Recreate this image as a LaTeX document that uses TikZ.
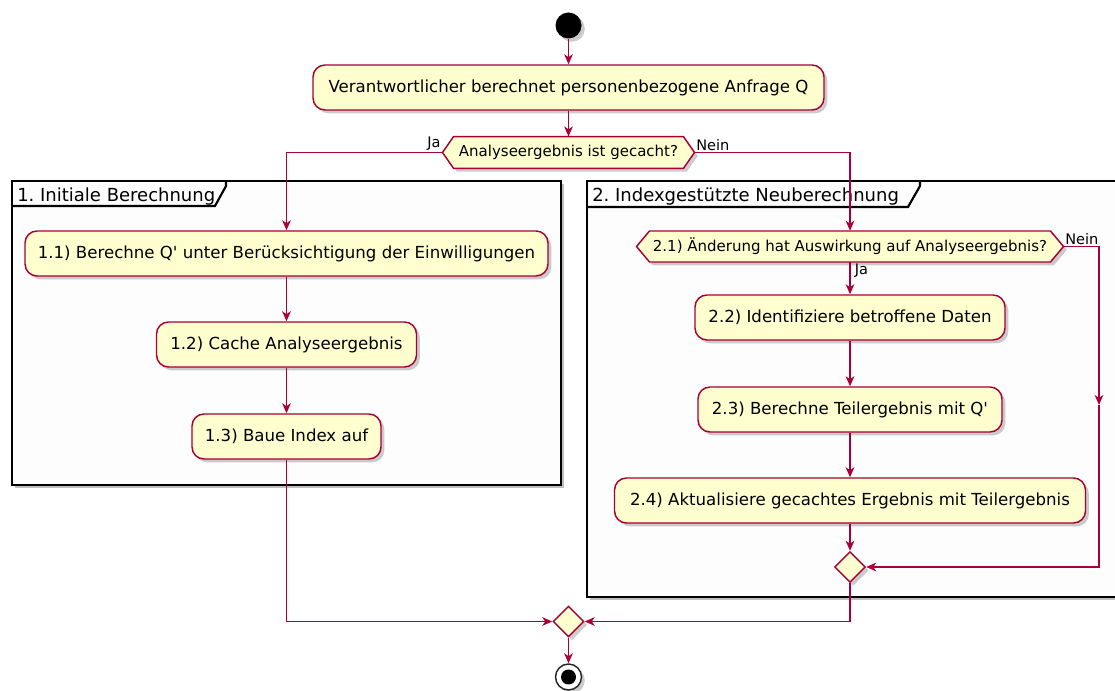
\documentclass[tikz,border=0pt]{standalone}
\usepackage{fontspec}
\setmainfont{DejaVu Sans}
\usetikzlibrary{arrows.meta,shadows,shapes.geometric}
\frenchspacing

\definecolor{umlred}{HTML}{A80036}
\definecolor{umlfill}{HTML}{FEFECE}
\definecolor{framefill}{HTML}{FDFDFD}

\tikzset{
  softshadow/.style={drop shadow={shadow xshift=2.5pt, shadow yshift=-2.5pt, fill=black, opacity=0.2}},
  act/.style={draw=umlred, fill=umlfill, line width=1.1pt, rounded corners=9pt,
    minimum height=33.75pt, inner xsep=0pt, inner ysep=0pt,
    font=\fontsize{12.45}{14}\selectfont, softshadow},
  hexpath/.style={draw=umlred, fill=umlfill, line width=1.1pt, line join=miter, softshadow},
  hextext/.style={inner sep=0pt, font=\fontsize{11.25}{13}\selectfont},
  merge/.style={diamond, aspect=1, draw=umlred, fill=umlfill, line width=1.1pt,
    minimum width=23.25pt, minimum height=23.25pt, inner sep=0pt, softshadow},
  flow/.style={draw=umlred, line width=1.1pt,
    -{Stealth[length=7.5pt, width=6.5pt, inset=2.2pt]}},
  lbl/.style={inner sep=1pt, font=\fontsize{10.9}{12}\selectfont},
  frame/.style={draw=black, line width=1.6pt, fill=framefill,
    drop shadow={shadow xshift=2.5pt, shadow yshift=-2.5pt, fill=black, opacity=0.25}},
  tabline/.style={draw=black, line width=1.6pt, line join=miter},
  frametitle/.style={anchor=base west, inner sep=0pt, font=\fontsize{13.5}{15}\selectfont},
  startdot/.style={circle, fill=black, minimum size=19.5pt, inner sep=0pt, softshadow},
  endring/.style={circle, draw=black!85, line width=1.1pt, fill=white, minimum size=19.5pt, inner sep=0pt, softshadow},
  endcore/.style={circle, fill=black, minimum size=11.25pt, inner sep=0pt},
}

% decision hexagon: name, centre x, centre y, half width, half height, point inset, text
\newcommand\umlhex[7]{%
  \path[hexpath] (#2-#4,#3) -- (#2-#4+#6,#3-#5) -- (#2+#4-#6,#3-#5) -- (#2+#4,#3)
    -- (#2+#4-#6,#3+#5) -- (#2-#4+#6,#3+#5) -- cycle;
  \node[hextext, minimum width={2*#4*0.75pt}, minimum height={2*#5*0.75pt}] (#1) at (#2,#3) {#7};
}

\begin{document}
\begin{tikzpicture}[x=0.75pt, y=-0.75pt]
  \fill[white] (0,0) rectangle (1115,691);
  \useasboundingbox (0,0) rectangle (1115,691);
  \clip (0,0) rectangle (1115,691);

  % partitions
  \path[frame] (12,181) rectangle (561,485);
  \draw[tabline] (12,206) -- (215,206) -- (226,186) -- (226,181);
  \node[frametitle] (t1) at (17,201.5) {1. Initiale Berechnung};

  \path[frame] (587,181) rectangle (1135,597);
  \draw[tabline] (587,207) -- (908,207) -- (920,186) -- (920,181);
  \node[frametitle] (t2) at (592,201.5) {2. Indexgestützte Neuberechnung};

  % start and first step
  \node[startdot] (start) at (568.5,25.5) {};
  \node[act, minimum width=383.25pt] (q) at (568.5,87.5)
    {Verantwortlicher berechnet personenbezogene Anfrage Q};
  \umlhex{d0}{568.5}{152.5}{126}{15.8}{11}{Analyseergebnis ist gecacht?}

  % initial computation
  \node[act, minimum width=392.25pt] (a11) at (286.5,253.5)
    {1.1) Berechne Q\textquotesingle{} unter Berücksichtigung der Einwilligungen};
  \node[act, minimum width=195pt] (a12) at (286.5,344.5) {1.2) Cache Analyseergebnis};
  \node[act, minimum width=141.75pt] (a13) at (286.5,436.5) {1.3) Baue Index auf};

  % index based recomputation
  \umlhex{d21}{850}{246.5}{213.5}{15.5}{13}{2.1) Änderung hat Auswirkung auf Analyseergebnis?}
  \node[act, minimum width=232.5pt] (a22) at (850,317.5) {2.2) Identifiziere betroffene Daten};
  \node[act, minimum width=228pt] (a23) at (850,409.5) {2.3) Berechne Teilergebnis mit Q\textquotesingle};
  \node[act, minimum width=353.25pt] (a24) at (850,500.5)
    {2.4) Aktualisiere gecachtes Ergebnis mit Teilergebnis};
  \node[merge] (m2) at (850,567) {};

  % final merge and end
  \node[merge] (mfin) at (568.5,621.5) {};
  \node[endring] (end) at (568.5,677) {};
  \node[endcore] (endc) at (end) {};

  % connectors
  \draw[flow] (start) -- (q);
  \draw[flow] (q) -- (d0);
  \draw[flow] (d0.west) -| (a11.north);
  \node[lbl, anchor=south east] (ja0) at (d0.west) {Ja};
  \draw[flow] (d0.east) -| (d21.north);
  \node[lbl, anchor=south west] (nein0) at (d0.east) {Nein};

  \draw[flow] (a11) -- (a12);
  \draw[flow] (a12) -- (a13);
  \draw[flow] (a13.south) |- (mfin.west);

  \draw[flow] (d21) -- (a22);
  \node[lbl, anchor=north west] (ja21) at ([xshift=2.5pt]d21.south) {Ja};
  \coordinate (neinmid) at (1099,405);
  \draw[flow] (d21.east) -| (neinmid);
  \node[lbl, anchor=south west] (nein21) at (d21.east) {Nein};
  \draw[flow] (neinmid) |- (m2.east);

  \draw[flow] (a22) -- (a23);
  \draw[flow] (a23) -- (a24);
  \draw[flow] (a24) -- (m2);
  \draw[flow] (m2.south) |- (mfin.east);
  \draw[flow] (mfin) -- (end);
\end{tikzpicture}
\end{document}
